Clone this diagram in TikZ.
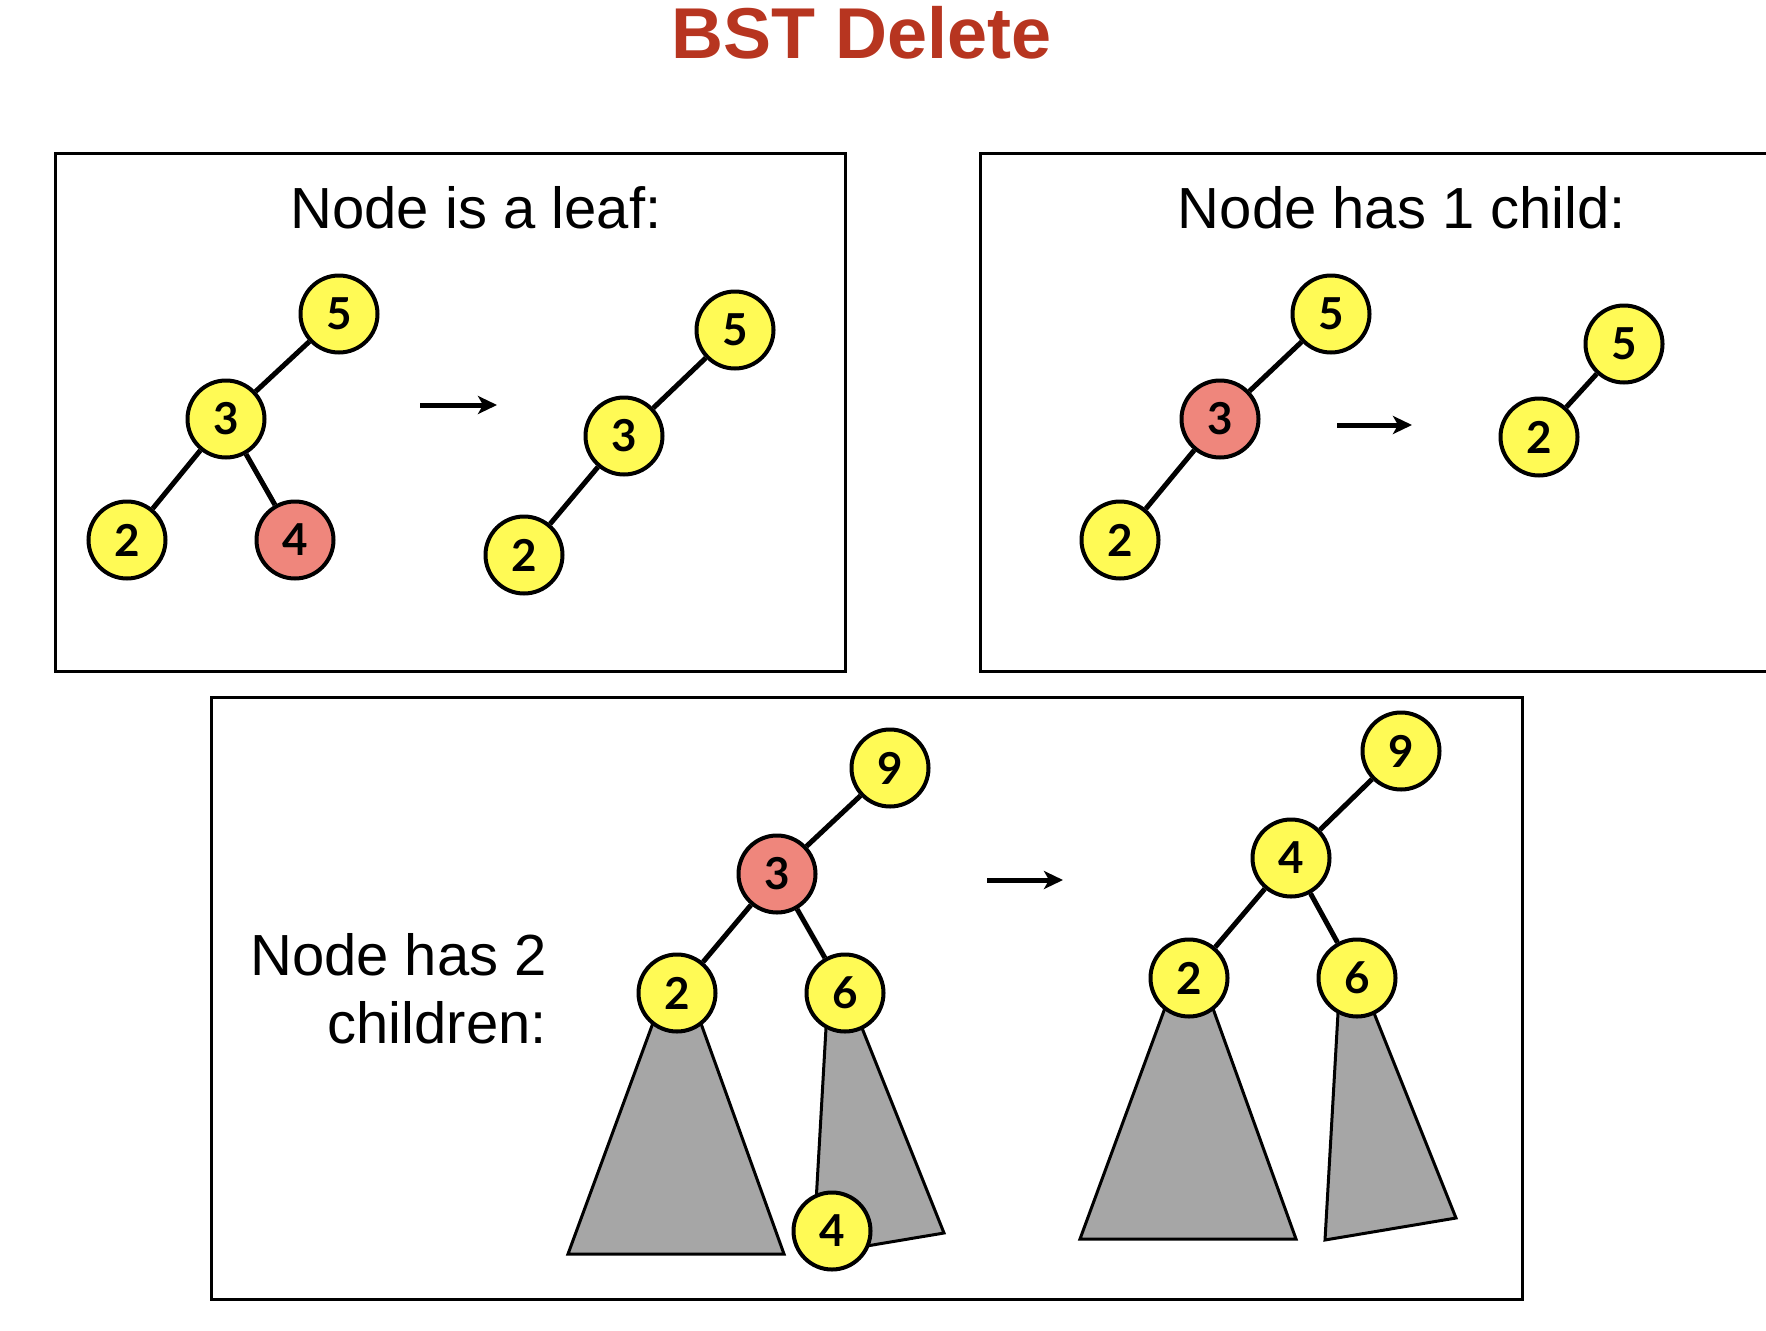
\documentclass[tikz,border=0pt]{standalone}
\usepackage{fontspec}
\setmainfont{Liberation Sans}
\newfontfamily\digitfont{Lato}
\usetikzlibrary{arrows.meta,calc,backgrounds}
\definecolor{titlered}{RGB}{183,53,32}
\definecolor{nodeyellow}{RGB}{255,250,85}
\definecolor{nodered}{RGB}{239,134,124}
\definecolor{subgray}{RGB}{166,166,166}
\begin{document}
\begin{tikzpicture}[x=1pt,y=-1pt,
  tn/.style={circle,draw=black,line width=4pt,fill=nodeyellow,minimum size=77pt,inner sep=0pt,font=\digitfont\bfseries\fontsize{44}{44}\selectfont},
  del/.style={tn,fill=nodered},
  edge/.style={line width=5pt},
  frame/.style={draw=black,line width=3pt},
  sub/.style={draw=black,line width=3pt,fill=subgray,line join=miter},
  go/.style={line width=5pt,-{Stealth[length=19pt,width=18pt,inset=5pt]}},
  head/.style={font=\fontsize{58}{68}\selectfont,inner sep=0pt}]
\useasboundingbox (0,0) rectangle (1766,1330);

% title
\node[font=\bfseries\fontsize{72}{72}\selectfont,text=titlered,anchor=base,inner sep=0pt] (title) at (862,59) {BST Delete};

% frames
\draw[frame] (55,153) rectangle (845,671);
\draw[frame] (1770,153) -- (980,153) -- (980,671) -- (1770,671);
\draw[frame] (211,697) rectangle (1522,1299);

% headings
\node[head,anchor=base] (h1) at (476,228) {Node is a leaf:};
\node[head,anchor=base] (h2) at (1402,228) {Node has 1 child:};
\node[head,anchor=base east,align=right] (h3) at (547,1043) {Node has 2\\children:};

% box 1
\node[tn] (a5) at (339,314) {5};
\node[tn] (a3) at (226,419) {3};
\node[tn] (a2) at (127,540) {2};
\node[del] (a4) at (295,540) {4};
\draw[edge] (a5) -- (a3);
\draw[edge] (a3) -- (a2);
\draw[edge] (a3) -- (a4);
\coordinate (p1s) at (420,405);
\coordinate (p1e) at (497,405);
\draw[go] (p1s) -- (p1e);
\node[tn] (b5) at (735,330) {5};
\node[tn] (b3) at (624,436) {3};
\node[tn] (b2) at (524,555) {2};
\draw[edge] (b5) -- (b3);
\draw[edge] (b3) -- (b2);

% box 2
\node[tn] (e5) at (1331,314) {5};
\node[del] (e3) at (1220,419) {3};
\node[tn] (e2) at (1120,540) {2};
\draw[edge] (e5) -- (e3);
\draw[edge] (e3) -- (e2);
\coordinate (p2s) at (1337,425);
\coordinate (p2e) at (1412,425);
\draw[go] (p2s) -- (p2e);
\node[tn] (f5) at (1624,344) {5};
\node[tn] (f2) at (1539,437) {2};
\draw[edge] (f5) -- (f2);

% box 3, before
\node[tn] (c9) at (890,768) {9};
\node[del] (c3) at (777,874) {3};
\node[tn] (c2) at (677,993) {2};
\node[tn] (c6) at (845,993) {6};
\node[tn] (c4) at (832,1231) {4};
\draw[edge] (c9) -- (c3);
\draw[edge] (c3) -- (c2);
\draw[edge] (c3) -- (c6);
\coordinate (p3s) at (987,880);
\coordinate (p3e) at (1063,880);
\draw[go] (p3s) -- (p3e);

% box 3, after
\node[tn] (d9) at (1401,751) {9};
\node[tn] (d4) at (1291,858) {4};
\node[tn] (d2) at (1189,978) {2};
\node[tn] (d6) at (1357,978) {6};
\draw[edge] (d9) -- (d4);
\draw[edge] (d4) -- (d2);
\draw[edge] (d4) -- (d6);

% subtrees
\begin{pgfonlayer}{background}
\draw[sub] ($(c2)+(-13,0)$) -- ($(c2)+(-109,261)$) -- ($(c2)+(107,261)$) -- ($(c2)+(13,0)$) -- cycle;
\draw[sub] ($(c6)+(-17,0)$) -- ($(c6)+(-32,262)$) -- ($(c6)+(99,240)$) -- ($(c6)+(3,0)$) -- cycle;
\draw[sub] ($(d2)+(-13,0)$) -- ($(d2)+(-109,261)$) -- ($(d2)+(107,261)$) -- ($(d2)+(13,0)$) -- cycle;
\draw[sub] ($(d6)+(-17,0)$) -- ($(d6)+(-32,262)$) -- ($(d6)+(99,240)$) -- ($(d6)+(3,0)$) -- cycle;
\end{pgfonlayer}
\end{tikzpicture}
\end{document}
